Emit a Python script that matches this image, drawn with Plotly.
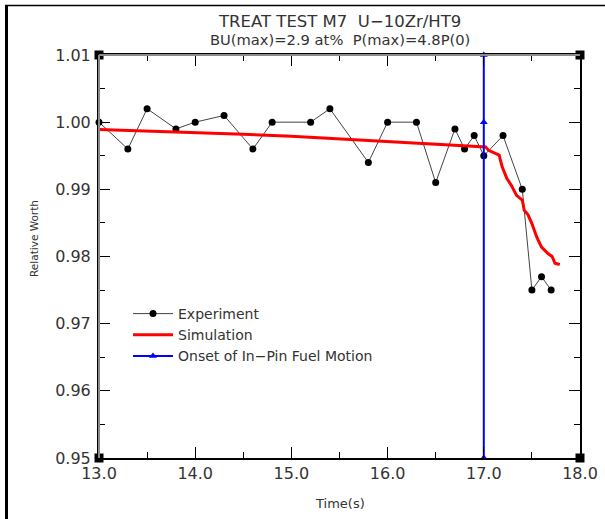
import plotly.graph_objects as go

# ---------------- data ----------------
exp_t = [13.0, 13.3, 13.5, 13.8, 14.0, 14.3, 14.6, 14.8, 15.2, 15.4, 15.8, 16.0,
         16.3, 16.5, 16.7, 16.8, 16.9, 17.0, 17.2, 17.4, 17.5, 17.6, 17.7]
exp_w = [1.000, 0.996, 1.002, 0.999, 1.000, 1.001, 0.996, 1.000, 1.000, 1.002, 0.994, 1.000,
         1.000, 0.991, 0.999, 0.996, 0.998, 0.995, 0.998, 0.990, 0.975, 0.977, 0.975]

sim_t = [13.0, 13.5, 14.0, 14.5, 15.0, 15.5, 16.0, 16.5, 17.0, 17.02, 17.05, 17.16,
         17.19, 17.24, 17.29, 17.34, 17.40, 17.42, 17.46, 17.50, 17.55, 17.60, 17.67,
         17.71, 17.74, 17.79]
sim_w = [0.9989, 0.9987, 0.9985, 0.9982, 0.9979, 0.9975, 0.9972, 0.9968, 0.9964, 0.9963,
         0.9958, 0.9951, 0.9934, 0.9916, 0.9905, 0.9891, 0.9884, 0.9869, 0.9862, 0.9849,
         0.9829, 0.9814, 0.9804, 0.9800, 0.9790, 0.9788]

onset_t = [17.0, 17.0, 17.0]
onset_w = [0.95, 1.00, 1.01]

corner_t = [13.0, 18.0, 13.0, 18.0]
corner_w = [1.01, 1.01, 0.95, 0.95]

x_ticks = [13.0, 14.0, 15.0, 16.0, 17.0, 18.0]
y_ticks = [0.95, 0.96, 0.97, 0.98, 0.99, 1.00, 1.01]

title1 = "TREAT TEST M7&nbsp;&nbsp;U\u221210Zr/HT9"
title2 = "BU(max)=2.9 at%&nbsp;&nbsp;P(max)=4.8P(0)"

FONT = "DejaVu Sans"
TXT = "#333333"

fig = go.Figure()

fig.add_trace(go.Scatter(
    x=exp_t, y=exp_w, mode="lines+markers", name="Experiment",
    line=dict(color="#444444", width=1),
    marker=dict(color="black", size=7, symbol="circle"),
    cliponaxis=False))

fig.add_trace(go.Scatter(
    x=sim_t, y=sim_w, mode="lines", name="Simulation",
    line=dict(color="#ff0000", width=3)))

fig.add_trace(go.Scatter(
    x=onset_t, y=onset_w, mode="lines+markers", name="Onset of In\u2212Pin Fuel Motion",
    line=dict(color="#0000ff", width=2),
    marker=dict(color="#0000ff", size=7, symbol="triangle-up"),
    cliponaxis=False))

fig.add_trace(go.Scatter(
    x=corner_t, y=corner_w, mode="markers", showlegend=False, hoverinfo="skip",
    marker=dict(color="black", size=9, symbol="square"),
    cliponaxis=False))

W, H = 605, 519
L, R, T, B = 99, 25, 55, 61
pw = W - L - R
ph = H - T - B

def px(x):
    return (x - L) / pw

def py(y):
    return (H - B - y) / ph

shapes = [
    # gray top and left axis lines over the black frame
    dict(type="line", xref="paper", yref="paper", x0=0, x1=1, y0=1, y1=1,
         line=dict(color="#8a8a8a", width=2)),
    dict(type="line", xref="paper", yref="paper", x0=0, x1=0, y0=0, y1=1,
         line=dict(color="#8a8a8a", width=2)),
    # outer image frame (top and left)
    dict(type="line", xref="paper", yref="paper", x0=px(5), x1=px(W), y0=py(5.5), y1=py(5.5),
         line=dict(color="black", width=1.5)),
    dict(type="line", xref="paper", yref="paper", x0=px(6.5), x1=px(6.5), y0=py(5), y1=py(H),
         line=dict(color="black", width=3)),
]

annotations = [
    dict(text=title1, xref="paper", yref="paper", x=0.5, y=py(21), showarrow=False,
         font=dict(family=FONT, size=16.5, color=TXT), xanchor="center", yanchor="middle"),
    dict(text=title2, xref="paper", yref="paper", x=0.5, y=py(39), showarrow=False,
         font=dict(family=FONT, size=14.7, color=TXT), xanchor="center", yanchor="middle"),
    dict(text="Time(s)", xref="paper", yref="paper", x=0.5, y=py(503), showarrow=False,
         font=dict(family=FONT, size=13, color=TXT), xanchor="center", yanchor="middle"),
    dict(text="Relative Worth", xref="paper", yref="paper", x=px(34), y=py(239), showarrow=False,
         textangle=-90, font=dict(family=FONT, size=10.5, color=TXT),
         xanchor="center", yanchor="middle"),
]

fig.update_layout(
    width=W, height=H,
    margin=dict(l=L, r=R, t=T, b=B, autoexpand=False),
    paper_bgcolor="white", plot_bgcolor="white",
    font=dict(family=FONT, size=14, color=TXT),
    showlegend=True,
    legend=dict(x=px(128), y=py(298), xanchor="left", yanchor="top",
                bgcolor="rgba(0,0,0,0)", borderwidth=0,
                font=dict(family=FONT, size=14, color=TXT),
                tracegroupgap=0, itemwidth=40),
    shapes=shapes, annotations=annotations,
)

fig.update_xaxes(
    range=[13.0, 18.0], tickvals=x_ticks, tickformat=".1f",
    showgrid=False, zeroline=False, automargin=False,
    showline=True, linecolor="black", linewidth=2, mirror="ticks",
    ticks="inside", ticklen=11, tickcolor="black", tickwidth=1,
    minor=dict(ticks="inside", ticklen=6, dtick=0.5, tickcolor="black", showgrid=False),
    tickfont=dict(family=FONT, size=16, color=TXT),
)
fig.update_yaxes(
    range=[0.95, 1.01], tickvals=y_ticks, tickformat=".2f",
    showgrid=False, zeroline=False, automargin=False,
    showline=True, linecolor="black", linewidth=2, mirror="ticks",
    ticks="inside", ticklen=11, tickcolor="black", tickwidth=1,
    minor=dict(ticks="inside", ticklen=6, dtick=0.005, tickcolor="black", showgrid=False),
    tickfont=dict(family=FONT, size=16, color=TXT),
    ticklabelstandoff=3,
)

fig.write_html("out.html")
